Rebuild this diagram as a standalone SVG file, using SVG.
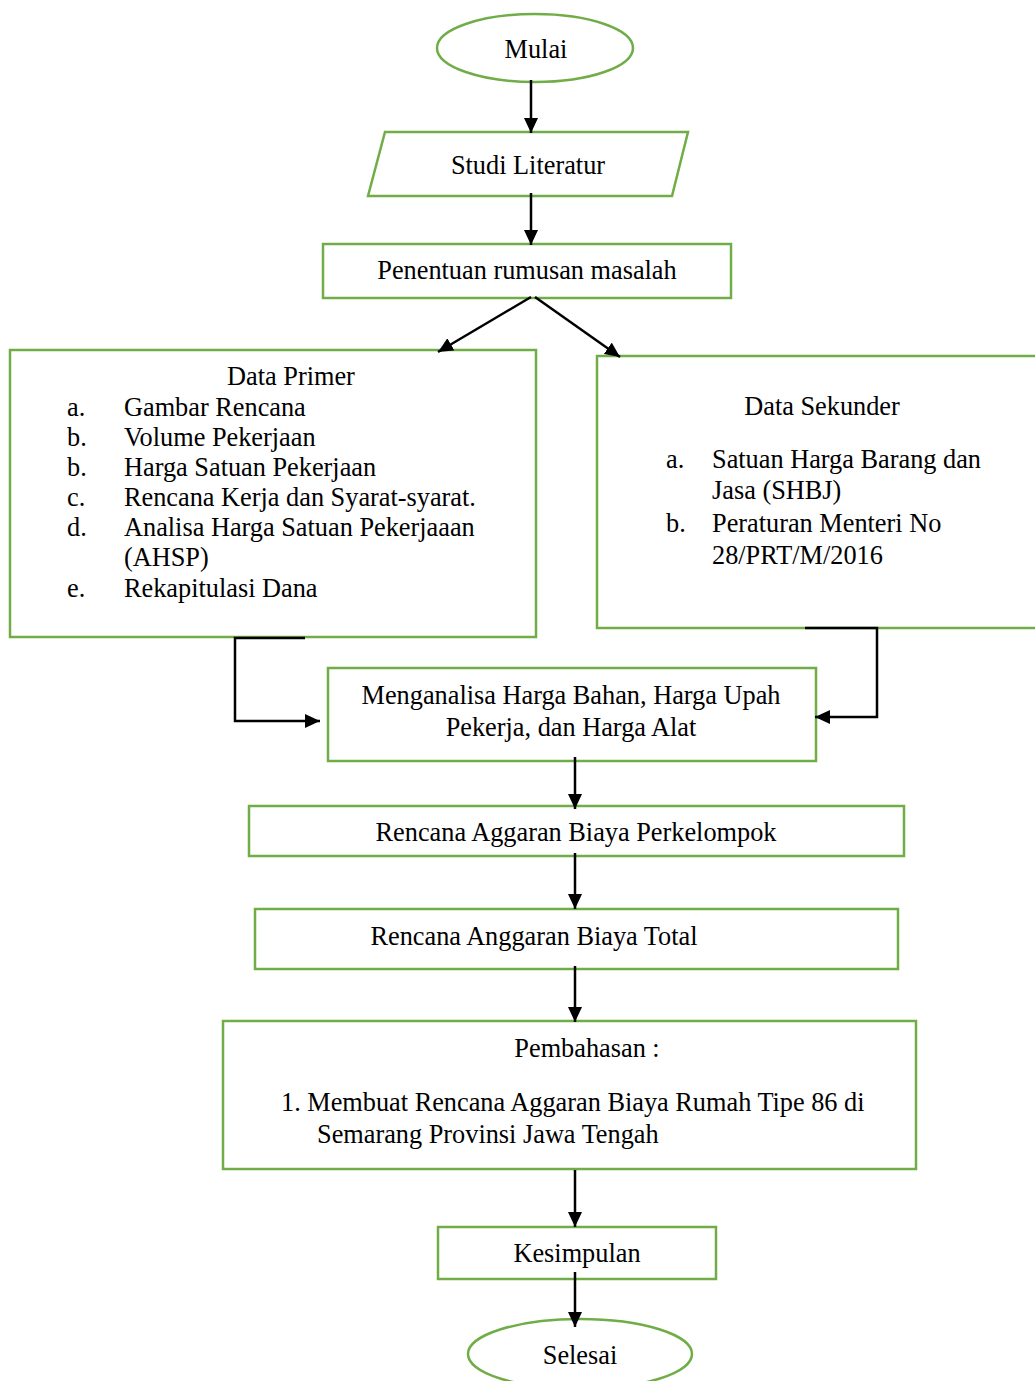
<svg xmlns="http://www.w3.org/2000/svg" width="1035" height="1381" viewBox="0 0 1035 1381">
<defs>
<style>
.n{fill:#fff;stroke:#70AD47;stroke-width:2.5}
.t{font-family:"Liberation Serif","Times New Roman",serif;font-size:26.3px;fill:#000}
.m{text-anchor:middle}
.c{fill:none;stroke:#000;stroke-width:2.5}
</style>
<marker id="ah" markerUnits="userSpaceOnUse" markerWidth="16" markerHeight="14" refX="15" refY="7" orient="auto">
<path d="M0,0 L15,7 L0,14 z" fill="#000"/>
</marker>
</defs>
<rect width="1035" height="1381" fill="#fff"/>
<g id="mulai"><ellipse class="n" cx="535" cy="48" rx="98" ry="34"/><text class="t m" x="536" y="58">Mulai</text></g>
<g id="studi"><polygon class="n" points="385,132 688,132 672,196 368,196"/><text class="t m" x="528" y="174">Studi Literatur</text></g>
<g id="penentuan"><rect class="n" x="323" y="244" width="408" height="54"/><text class="t m" x="527" y="279">Penentuan rumusan masalah</text></g>
<g id="primer"><rect class="n" x="10" y="350" width="526" height="287"/>
<text class="t m" x="291" y="385">Data Primer</text>
<text class="t" x="67" y="416">a.</text><text class="t" x="124" y="416">Gambar Rencana</text>
<text class="t" x="67" y="446">b.</text><text class="t" x="124" y="446">Volume Pekerjaan</text>
<text class="t" x="67" y="476">b.</text><text class="t" x="124" y="476">Harga Satuan Pekerjaan</text>
<text class="t" x="67" y="506">c.</text><text class="t" x="124" y="506">Rencana Kerja dan Syarat-syarat.</text>
<text class="t" x="67" y="536">d.</text><text class="t" x="124" y="536">Analisa Harga Satuan Pekerjaaan</text>
<text class="t" x="124" y="566">(AHSP)</text>
<text class="t" x="67" y="597">e.</text><text class="t" x="124" y="597">Rekapitulasi Dana</text>
</g>
<g id="sekunder"><rect class="n" x="597" y="356" width="450" height="272"/>
<text class="t m" x="822" y="415">Data Sekunder</text>
<text class="t" x="666" y="468">a.</text><text class="t" x="712" y="468">Satuan Harga Barang dan</text>
<text class="t" x="712" y="499">Jasa (SHBJ)</text>
<text class="t" x="666" y="532">b.</text><text class="t" x="712" y="532">Peraturan Menteri No</text>
<text class="t" x="712" y="564">28/PRT/M/2016</text>
</g>
<g id="menganalisa"><rect class="n" x="328" y="668" width="488" height="93"/>
<text class="t m" x="571" y="704">Menganalisa Harga Bahan, Harga Upah</text>
<text class="t m" x="571" y="736">Pekerja, dan Harga Alat</text></g>
<g id="perkelompok"><rect class="n" x="249" y="806" width="655" height="50"/><text class="t m" x="576" y="841">Rencana Aggaran Biaya Perkelompok</text></g>
<g id="total"><rect class="n" x="255" y="909" width="643" height="60"/><text class="t m" x="534" y="945">Rencana Anggaran Biaya Total</text></g>
<g id="pembahasan"><rect class="n" x="223" y="1021" width="693" height="148"/>
<text class="t m" x="587" y="1057">Pembahasan :</text>
<text class="t" x="281" y="1111">1. Membuat Rencana Aggaran Biaya Rumah Tipe 86 di</text>
<text class="t" x="317" y="1143">Semarang Provinsi Jawa Tengah</text></g>
<g id="kesimpulan"><rect class="n" x="438" y="1227" width="278" height="52"/><text class="t m" x="577" y="1262">Kesimpulan</text></g>
<g id="selesai"><ellipse class="n" cx="580" cy="1354" rx="112" ry="35"/><text class="t m" x="580" y="1364">Selesai</text></g>
<g id="connectors">
<line class="c" x1="531" y1="80" x2="531" y2="133" marker-end="url(#ah)"/>
<line class="c" x1="531" y1="193" x2="531" y2="245" marker-end="url(#ah)"/>
<line class="c" x1="531" y1="297" x2="438" y2="352" marker-end="url(#ah)"/>
<line class="c" x1="535" y1="297" x2="620" y2="357" marker-end="url(#ah)"/>
<polyline class="c" points="305,638 235,638 235,721 320,721" marker-end="url(#ah)"/>
<polyline class="c" points="805,628 877,628 877,717 815,717" marker-end="url(#ah)"/>
<line class="c" x1="575" y1="757" x2="575" y2="809" marker-end="url(#ah)"/>
<line class="c" x1="575" y1="853" x2="575" y2="909" marker-end="url(#ah)"/>
<line class="c" x1="575" y1="966" x2="575" y2="1022" marker-end="url(#ah)"/>
<line class="c" x1="575" y1="1170" x2="575" y2="1227" marker-end="url(#ah)"/>
<line class="c" x1="575" y1="1272" x2="575" y2="1327" marker-end="url(#ah)"/>
</g>
</svg>
